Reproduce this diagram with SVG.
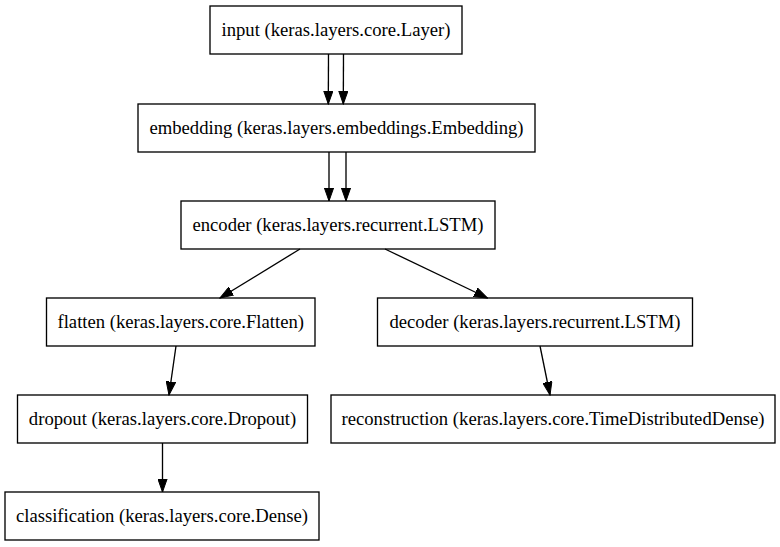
<svg xmlns="http://www.w3.org/2000/svg" width="780" height="547" viewBox="0 0 780 547">
<defs>
<marker id="ah" markerWidth="14" markerHeight="10" refX="13.3" refY="5" orient="auto" markerUnits="userSpaceOnUse">
<path d="M0,0.3 L13.3,5 L0,9.7 Z" fill="#000" stroke="#000" stroke-width="1"/>
</marker>
<style>
rect{fill:#fff;stroke:#000;stroke-width:1.33}
text{font-family:"Liberation Serif","Times New Roman",serif;font-size:18.67px;text-anchor:middle;fill:#000}
.e line{stroke:#000;stroke-width:1.33;marker-end:url(#ah)}
</style>
</defs>
<rect x="0" y="0" width="780" height="547" style="stroke:none"/>
<g id="input"><rect x="210" y="6" width="252" height="48"/><text x="336" y="36">input (keras.layers.core.Layer)</text></g>
<g id="embedding"><rect x="138" y="104" width="397" height="48"/><text x="336.5" y="134">embedding (keras.layers.embeddings.Embedding)</text></g>
<g id="encoder"><rect x="181" y="201" width="314" height="48"/><text x="338" y="231">encoder (keras.layers.recurrent.LSTM)</text></g>
<g id="flatten"><rect x="46.5" y="298" width="268.5" height="48"/><text x="180.75" y="328">flatten (keras.layers.core.Flatten)</text></g>
<g id="decoder"><rect x="377.5" y="298" width="315" height="48"/><text x="535" y="328">decoder (keras.layers.recurrent.LSTM)</text></g>
<g id="dropout"><rect x="17.5" y="395" width="290" height="48"/><text x="162.5" y="425">dropout (keras.layers.core.Dropout)</text></g>
<g id="reconstruction"><rect x="331" y="395" width="444" height="48"/><text x="553" y="425">reconstruction (keras.layers.core.TimeDistributedDense)</text></g>
<g id="classification"><rect x="5" y="492" width="314" height="48"/><text x="162" y="522">classification (keras.layers.core.Dense)</text></g>
<g class="e" id="edges">
<line x1="328.5" y1="54" x2="328.3" y2="104"/>
<line x1="343.5" y1="54" x2="343.3" y2="104"/>
<line x1="329" y1="152" x2="329" y2="201"/>
<line x1="346" y1="152" x2="346" y2="201"/>
<line x1="300" y1="249" x2="220" y2="298"/>
<line x1="385" y1="249" x2="487.5" y2="298"/>
<line x1="176" y1="346" x2="169" y2="395"/>
<line x1="540" y1="346" x2="550" y2="395"/>
<line x1="162.5" y1="443" x2="162.5" y2="492"/>
</g>
</svg>
